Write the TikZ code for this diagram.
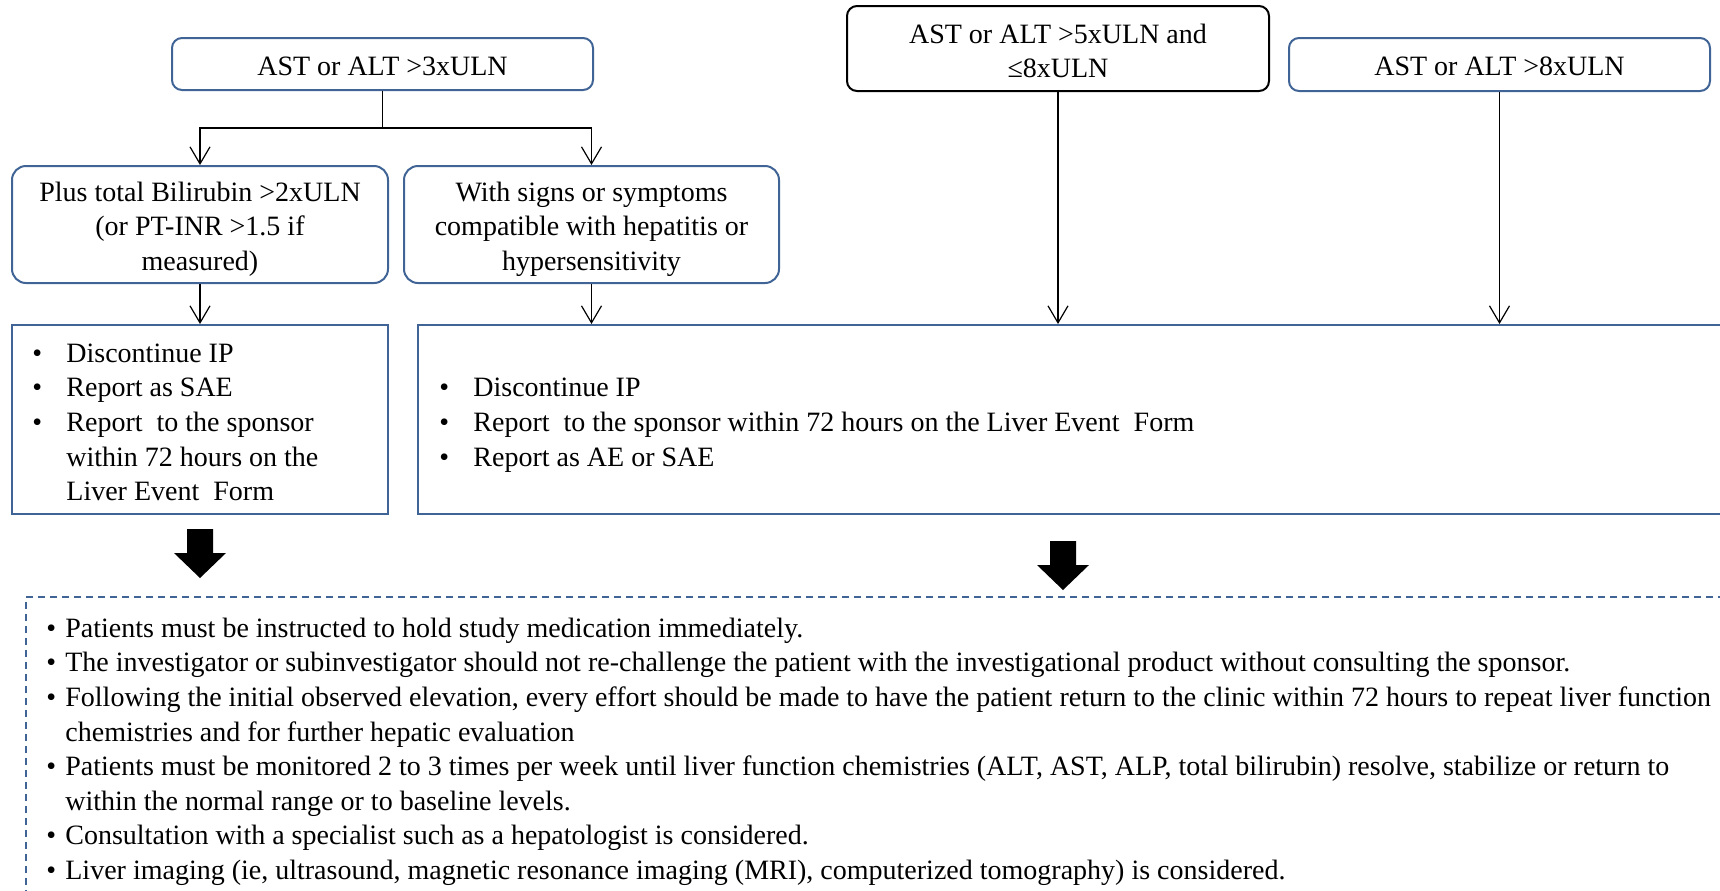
\documentclass[tikz,border=0pt]{standalone}
\usepackage{fontspec}
\setmainfont{Liberation Serif}
\usetikzlibrary{arrows.meta}
\definecolor{bblue}{RGB}{65,100,150}
\begin{document}
\begin{tikzpicture}[x=0.5pt,y=-0.5pt,
  txt/.style={font=\fontsize{14}{17.3}\selectfont, inner sep=0pt},
  ctxt/.style={txt, align=center},
  rbox/.style={draw=bblue, line width=1pt, rounded corners=5pt, inner sep=0pt},
  bigr/.style={rbox, rounded corners=7pt},
  sbox/.style={draw=bblue, line width=1pt, inner sep=0pt},
  dbox/.style={draw=bblue, line width=1pt, dash pattern=on 3.5pt off 2.5pt, inner sep=0pt},
  arr/.style={line width=0.6pt, -{Straight Barb[length=8.5pt,width=10pt,line width=0.6pt]}},
  ln/.style={line width=0.6pt},
  fat/.style={fill=black}
]
\useasboundingbox (0,0) rectangle (1720,890);
\clip (0,0) rectangle (1720,890);

\node[rbox, minimum width=210.5pt, minimum height=26pt] (b1) at (382.5,64) {};
\node[ctxt] (t1) at (382.5,66) {AST or ALT >3xULN};
\node[bigr, minimum width=188pt, minimum height=58.5pt] (b2) at (200,224.5) {};
\node[ctxt] (t2) at (200,229) {Plus total Bilirubin >2xULN\\(or PT-INR >1.5 if\\measured)};
\node[bigr, minimum width=187.5pt, minimum height=58.5pt] (b3) at (591.5,224.5) {};
\node[ctxt] (t3) at (591.5,229) {With signs or symptoms\\compatible with hepatitis or\\hypersensitivity};
\node[rbox, draw=black, minimum width=211pt, minimum height=42.5pt] (b4) at (1058,48.5) {};
\node[ctxt] (t4) at (1058,51) {AST or ALT >5xULN and\\≤8xULN};
\node[rbox, minimum width=210.5pt, minimum height=26.5pt] (b5) at (1499.5,64.5) {};
\node[ctxt] (t5) at (1499.5,66.5) {AST or ALT >8xULN};

\node[sbox, minimum width=188pt, minimum height=94.5pt] (b6) at (200,419.5) {};
\node[sbox, minimum width=671pt, minimum height=94.5pt] (b7) at (1089,419.5) {};
\node[dbox, minimum width=867pt, minimum height=171.5pt] (b8) at (893,768.5) {};

\node[txt, anchor=west] (l6) at (32,424.5) {%
\begin{tabular}{@{}p{17pt}@{}l@{}}
• & Discontinue IP\\
• & Report as SAE\\
• & Report\ \ to the sponsor\\
  & within 72 hours on the\\
  & Liver Event\ \ Form
\end{tabular}};

\node[txt, anchor=west] (l7) at (439,424.5) {%
\begin{tabular}{@{}p{17pt}@{}l@{}}
• & Discontinue IP\\
• & Report\ \ to the sponsor within 72 hours on the Liver Event\ \ Form\\
• & Report as AE or SAE
\end{tabular}};

\node[txt, anchor=west] (l8) at (46,751.5) {%
\begin{tabular}{@{}p{9.5pt}@{}l@{}}
• & Patients must be instructed to hold study medication immediately.\\
• & The investigator or subinvestigator should not re-challenge the patient with the investigational product without consulting the sponsor.\\
• & Following the initial observed elevation, every effort should be made to have the patient return to the clinic within 72 hours to repeat liver function\\
  & chemistries and for further hepatic evaluation\\
• & Patients must be monitored 2 to 3 times per week until liver function chemistries (ALT, AST, ALP, total bilirubin) resolve, stabilize or return to\\
  & within the normal range or to baseline levels.\\
• & Consultation with a specialist such as a hepatologist is considered.\\
• & Liver imaging (ie, ultrasound, magnetic resonance imaging (MRI), computerized tomography) is considered.
\end{tabular}};

% connectors
\coordinate (j) at (382.5,128);
\draw[ln] (b1.south) -- (j);
\draw[arr] (j) -| (b2.north);
\draw[arr] (j) -| (b3.north);
\draw[arr] (b2.south) -- (b6.north);
\draw[arr] (b3.south) -- (b3.south |- b7.north);
\draw[arr] (b4.south) -- (b4.south |- b7.north);
\draw[arr] (b5.south) -- (b5.south |- b7.north);

% thick arrows
\fill[fat] (187,529) -- (213,529) -- (213,553) -- (226,553) -- (200,578) -- (174,553) -- (187,553) -- cycle;
\fill[fat] (1050,541) -- (1076,541) -- (1076,565) -- (1089,565) -- (1063,590) -- (1037,565) -- (1050,565) -- cycle;
\end{tikzpicture}
\end{document}
